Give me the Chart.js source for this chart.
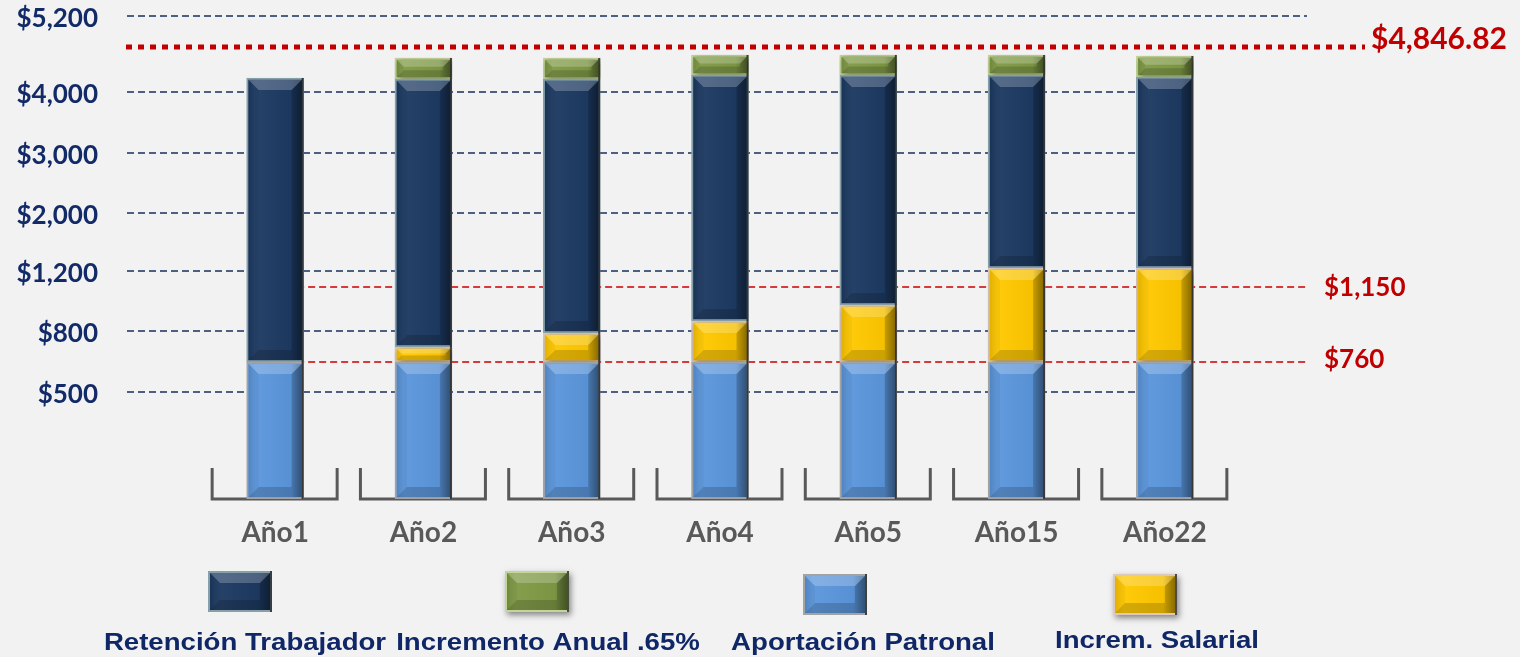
<!DOCTYPE html>
<html lang="es">
<head>
<meta charset="utf-8">
<title>Aportaciones por año</title>
<script src="https://cdn.jsdelivr.net/npm/chart.js@4.4.1/dist/chart.umd.min.js"></script>
<style>
  html, body { margin: 0; padding: 0; background: #f2f2f2; overflow: hidden; }
  #wrap { width: 1520px; height: 657px; }
</style>
</head>
<body>
<div id="wrap"><canvas id="chart" width="1520" height="657"></canvas></div>
<script>
const years = ['Año1', 'Año2', 'Año3', 'Año4', 'Año5', 'Año15', 'Año22'];

// the axis is not linear in dollars, so heights are kept in plot units read off the picture
const aportacionPatronal = [137, 137, 137, 137, 137, 137, 137];
const incremSalarial = [0, 15, 29, 41, 57, 94, 94];
const retencionTrabajador = [284, 268, 254, 246, 230, 193, 191];
const incrementoAnual = [0, 21, 21, 20, 20, 20, 21];

const yTickPos = [107, 168, 228, 286, 346, 407, 483];
const yTickLabels = ['$500', '$800', '$1,200', '$2,000', '$3,000', '$4,000', '$5,200'];

const refPos = [452, 212, 137];
const refLabels = ['$4,846.82', '$1,150', '$760'];

const legendOrder = [2, 3, 0, 1];

const series = [
  { label: 'Aportación Patronal', data: aportacionPatronal, color: '#5b96dc', border: '#a3a3a3', shadow: false },
  { label: 'Increm. Salarial', data: incremSalarial, color: '#ffc800', border: '#dcc8bc', shadow: true },
  { label: 'Retención Trabajador', data: retencionTrabajador, color: '#1d3a62', border: '#86a0aa', shadow: false },
  { label: 'Incremento Anual .65%', data: incrementoAnual, color: '#7f9a45', border: '#c4d59a', shadow: true }
];

function line(ctx, x0, y0, x1, y1) {
  ctx.beginPath();
  ctx.moveTo(x0, y0);
  ctx.lineTo(x1, y1);
  ctx.stroke();
}

function poly(ctx, pts, fill) {
  ctx.beginPath();
  pts.forEach((p, i) => i ? ctx.lineTo(p[0], p[1]) : ctx.moveTo(p[0], p[1]));
  ctx.closePath();
  ctx.fillStyle = fill;
  ctx.fill();
}

// bevel facets painted over a filled rectangle
function bevel(ctx, x0, y0, x1, y1) {
  const w = x1 - x0, h = y1 - y0;
  if (h < 2 || w < 2) return;
  const b = Math.min(10, h * 0.4, w * 0.25);
  const g = ctx.createLinearGradient(x0, 0, x1, 0);
  g.addColorStop(0, 'rgba(0,0,0,0.08)');
  g.addColorStop(0.15, 'rgba(255,255,255,0.04)');
  g.addColorStop(0.8, 'rgba(0,0,0,0.04)');
  g.addColorStop(1, 'rgba(0,0,0,0.35)');
  ctx.fillStyle = g;
  ctx.fillRect(x0, y0, w, h);
  poly(ctx, [[x0, y0], [x1, y0], [x1 - b, y0 + b], [x0 + b, y0 + b]], 'rgba(255,255,255,0.22)');
  poly(ctx, [[x0, y1], [x1, y1], [x1 - b, y1 - b], [x0 + b, y1 - b]], 'rgba(0,0,0,0.16)');
  poly(ctx, [[x1, y0], [x1, y1], [x1 - b, y1 - b], [x1 - b, y0 + b]], 'rgba(0,0,0,0.16)');
  poly(ctx, [[x0, y0], [x0, y1], [x0 + b, y1 - b], [x0 + b, y0 + b]], 'rgba(0,0,0,0.04)');
}

const decor = {
  id: 'decor',
  beforeDatasetsDraw(chart) {
    const { ctx, chartArea, scales: { x, y } } = chart;
    ctx.save();
    // dashed grid
    ctx.lineWidth = 2;
    ctx.strokeStyle = '#4d6082';
    ctx.setLineDash([7, 4]);
    const lastX = x.getPixelForValue(years.length - 1);
    yTickPos.forEach((v, i) => {
      const py = Math.round(y.getPixelForValue(v));
      const end = i === yTickPos.length - 1 ? chartArea.right + 68 : lastX;
      line(ctx, chartArea.left - 74, py, end, py);
    });
    // reference lines and their labels
    refPos.forEach((v, i) => {
      const py = Math.round(y.getPixelForValue(v));
      ctx.textBaseline = 'middle';
      ctx.textAlign = 'left';
      if (i === 0) {
        ctx.lineWidth = 5;
        ctx.strokeStyle = '#c00000';
        ctx.setLineDash([6, 6]);
        line(ctx, chartArea.left - 75, py, chartArea.right + 126, py);
        ctx.fillStyle = '#c00000';
        ctx.font = 'bold 30px Lato';
        ctx.fillText(refLabels[i], chartArea.right + 132, py - 8);
      } else {
        ctx.lineWidth = 2;
        ctx.strokeStyle = '#d63b3b';
        ctx.setLineDash([7, 4]);
        line(ctx, x.getPixelForValue(0), py, chartArea.right + 67, py);
        ctx.fillStyle = '#c00000';
        ctx.font = 'bold 26px Lato';
        ctx.fillText(refLabels[i], chartArea.right + 85, py + (i === 1 ? 1 : -2));
      }
    });
    // bracket shaped axis under each year
    ctx.setLineDash([]);
    ctx.lineWidth = 3;
    ctx.strokeStyle = '#595959';
    const bottom = y.getPixelForValue(0);
    const top = y.getPixelForValue(31);
    years.forEach((_, i) => {
      const cx = x.getPixelForValue(i);
      ctx.beginPath();
      ctx.moveTo(cx - 63, top);
      ctx.lineTo(cx - 63, bottom);
      ctx.lineTo(cx + 62, bottom);
      ctx.lineTo(cx + 62, top);
      ctx.stroke();
    });
    ctx.restore();
  },
  beforeDatasetDraw(chart, args) {
    if (series[args.index].shadow) {
      chart.ctx.shadowColor = 'rgba(0,0,0,0.45)';
      chart.ctx.shadowBlur = 6;
      chart.ctx.shadowOffsetX = 2;
      chart.ctx.shadowOffsetY = 2;
    }
  },
  afterDatasetDraw(chart) {
    chart.ctx.shadowColor = 'rgba(0,0,0,0)';
    chart.ctx.shadowBlur = 0;
    chart.ctx.shadowOffsetX = 0;
    chart.ctx.shadowOffsetY = 0;
  },
  afterDatasetsDraw(chart) {
    const ctx = chart.ctx;
    ctx.save();
    chart.data.datasets.forEach((ds, di) => {
      chart.getDatasetMeta(di).data.forEach(bar => {
        const { x, y, base, width } = bar.getProps(['x', 'y', 'base', 'width'], true);
        const top = Math.min(y, base), bot = Math.max(y, base);
        if (bot - top < 2) return;
        const x0 = x - width / 2, x1 = x + width / 2;
        bevel(ctx, x0 + 2, top + 2, x1 - 2, bot - 2);
        ctx.fillStyle = 'rgba(20,20,20,0.75)';
        ctx.fillRect(x1 - 2, top, 2, bot - top);
      });
    });
    ctx.restore();
  },
  afterDraw(chart) {
    const ctx = chart.ctx;
    const boxes = [[208, 571], [505, 571], [803, 574], [1113, 574]];
    const textX = [245, 548, 863, 1157];
    const textY = [650, 650, 650, 648];
    ctx.save();
    legendOrder.forEach((si, k) => {
      const s = series[si];
      const [bx, by] = boxes[k];
      const bw = 64, bh = 41;
      if (s.shadow) {
        ctx.shadowColor = 'rgba(0,0,0,0.45)';
        ctx.shadowBlur = 6;
        ctx.shadowOffsetX = 2;
        ctx.shadowOffsetY = 3;
      }
      ctx.fillStyle = s.border;
      ctx.fillRect(bx, by, bw, bh);
      ctx.shadowColor = 'rgba(0,0,0,0)';
      ctx.shadowBlur = 0;
      ctx.shadowOffsetX = 0;
      ctx.shadowOffsetY = 0;
      ctx.fillStyle = s.color;
      ctx.fillRect(bx + 2, by + 2, bw - 4, bh - 4);
      bevel(ctx, bx + 2, by + 2, bx + bw - 2, by + bh - 2);
      ctx.fillStyle = 'rgba(20,20,20,0.7)';
      ctx.fillRect(bx + bw - 2, by, 2, bh);

      ctx.save();
      ctx.translate(textX[k], textY[k]);
      ctx.scale(1.15, 1);
      ctx.font = 'bold 24px "Liberation Sans", Arial, sans-serif';
      ctx.fillStyle = '#0f2766';
      ctx.textAlign = 'center';
      ctx.textBaseline = 'alphabetic';
      ctx.fillText(s.label, 0, 0);
      ctx.restore();
    });
    ctx.restore();
  }
};

function draw() {
  new Chart(document.getElementById('chart'), {
    type: 'bar',
    data: {
      labels: years,
      datasets: series.map(s => ({
        label: s.label,
        data: s.data,
        backgroundColor: s.color,
        borderColor: s.border,
        borderWidth: 2,
        borderSkipped: false,
        barThickness: 57
      }))
    },
    options: {
      responsive: false,
      animation: false,
      layout: { padding: { top: 14, right: 281, bottom: 98, left: 0 } },
      plugins: { legend: { display: false }, tooltip: { enabled: false } },
      scales: {
        x: {
          stacked: true,
          grid: { display: false, drawTicks: false },
          border: { display: false },
          ticks: { color: '#595959', font: { family: 'Lato', size: 28, weight: 'bold' }, padding: 17 },
          afterFit: s => { s.height = 60; }
        },
        y: {
          stacked: true,
          min: 0,
          max: 485,
          grid: { display: false, drawTicks: false },
          border: { display: false },
          afterBuildTicks: s => { s.ticks = yTickPos.map(v => ({ value: v })); },
          ticks: {
            color: '#122a68',
            font: { family: 'Lato', size: 26, weight: 'bold', lineHeight: 1 },
            padding: 103,
            labelOffset: 3,
            autoSkip: false,
            callback: (v, i) => yTickLabels[i]
          },
          afterFit: s => { s.width = 201; s.paddingTop = 0; s.paddingBottom = 0; }
        }
      }
    },
    plugins: [decor]
  });
}

Promise.all([
  document.fonts.load('bold 26px Lato'),
  document.fonts.load('bold 24px "Liberation Sans"')
]).then(draw, draw);
</script>
</body>
</html>
